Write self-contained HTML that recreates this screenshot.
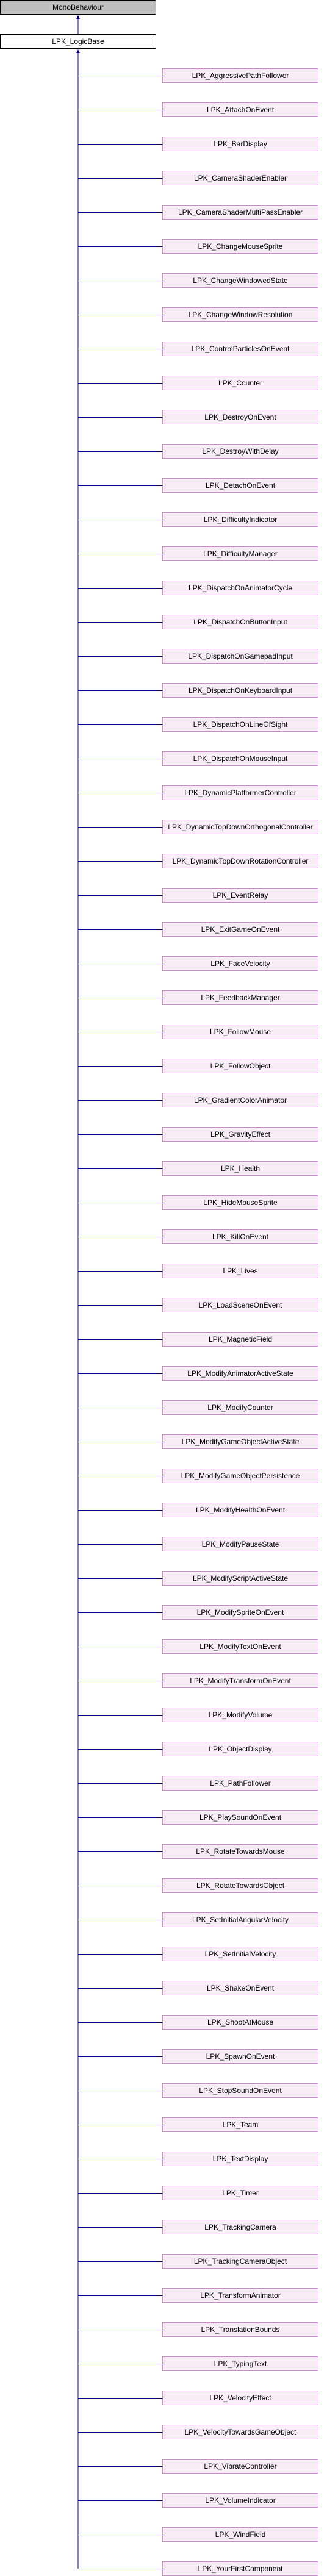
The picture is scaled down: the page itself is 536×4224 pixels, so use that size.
<!DOCTYPE html>
<html><head><meta charset="utf-8"><style>
html,body{margin:0;padding:0;background:#fff;width:536px;height:4224px;overflow:hidden}
svg text{font-family:"Liberation Sans",Arial,sans-serif;font-size:12px;fill:#000}
.c rect{fill:#f8edf5;stroke:#c98ac9;stroke-width:1}
</style></head><body>
<svg width="536" height="4224" xmlns="http://www.w3.org/2000/svg">
<rect x="0.5" y="0.5" width="255" height="23" fill="#bfbfbf" stroke="#000"/>
<text x="128" y="16" text-anchor="middle">MonoBehaviour</text>
<rect x="0.5" y="56.5" width="255" height="23" fill="#fff" stroke="#000"/>
<text x="128" y="72" text-anchor="middle">LPK_LogicBase</text>
<line x1="128" y1="30" x2="128" y2="56" stroke="#000080" stroke-width="1"/>
<polygon points="128,25 125,31 131,31" fill="#000080"/>
<line x1="128" y1="86" x2="128" y2="4212" stroke="#000080" stroke-width="1"/>
<polygon points="128,81 125,87 131,87" fill="#000080"/>
<g stroke="#000080" stroke-width="1">
<line x1="128" x2="266" y1="124.5" y2="124.5"/><line x1="128" x2="266" y1="180.5" y2="180.5"/><line x1="128" x2="266" y1="236.5" y2="236.5"/><line x1="128" x2="266" y1="292.5" y2="292.5"/><line x1="128" x2="266" y1="348.5" y2="348.5"/><line x1="128" x2="266" y1="404.5" y2="404.5"/><line x1="128" x2="266" y1="460.5" y2="460.5"/><line x1="128" x2="266" y1="516.5" y2="516.5"/><line x1="128" x2="266" y1="572.5" y2="572.5"/><line x1="128" x2="266" y1="628.5" y2="628.5"/>
<line x1="128" x2="266" y1="684.5" y2="684.5"/><line x1="128" x2="266" y1="740.5" y2="740.5"/><line x1="128" x2="266" y1="796.5" y2="796.5"/><line x1="128" x2="266" y1="852.5" y2="852.5"/><line x1="128" x2="266" y1="908.5" y2="908.5"/><line x1="128" x2="266" y1="964.5" y2="964.5"/><line x1="128" x2="266" y1="1020.5" y2="1020.5"/><line x1="128" x2="266" y1="1076.5" y2="1076.5"/><line x1="128" x2="266" y1="1132.5" y2="1132.5"/><line x1="128" x2="266" y1="1188.5" y2="1188.5"/>
<line x1="128" x2="266" y1="1244.5" y2="1244.5"/><line x1="128" x2="266" y1="1300.5" y2="1300.5"/><line x1="128" x2="266" y1="1356.5" y2="1356.5"/><line x1="128" x2="266" y1="1412.5" y2="1412.5"/><line x1="128" x2="266" y1="1468.5" y2="1468.5"/><line x1="128" x2="266" y1="1524.5" y2="1524.5"/><line x1="128" x2="266" y1="1580.5" y2="1580.5"/><line x1="128" x2="266" y1="1636.5" y2="1636.5"/><line x1="128" x2="266" y1="1692.5" y2="1692.5"/><line x1="128" x2="266" y1="1748.5" y2="1748.5"/>
<line x1="128" x2="266" y1="1804.5" y2="1804.5"/><line x1="128" x2="266" y1="1860.5" y2="1860.5"/><line x1="128" x2="266" y1="1916.5" y2="1916.5"/><line x1="128" x2="266" y1="1972.5" y2="1972.5"/><line x1="128" x2="266" y1="2028.5" y2="2028.5"/><line x1="128" x2="266" y1="2084.5" y2="2084.5"/><line x1="128" x2="266" y1="2140.5" y2="2140.5"/><line x1="128" x2="266" y1="2196.5" y2="2196.5"/><line x1="128" x2="266" y1="2252.5" y2="2252.5"/><line x1="128" x2="266" y1="2308.5" y2="2308.5"/>
<line x1="128" x2="266" y1="2364.5" y2="2364.5"/><line x1="128" x2="266" y1="2420.5" y2="2420.5"/><line x1="128" x2="266" y1="2476.5" y2="2476.5"/><line x1="128" x2="266" y1="2532.5" y2="2532.5"/><line x1="128" x2="266" y1="2588.5" y2="2588.5"/><line x1="128" x2="266" y1="2644.5" y2="2644.5"/><line x1="128" x2="266" y1="2700.5" y2="2700.5"/><line x1="128" x2="266" y1="2756.5" y2="2756.5"/><line x1="128" x2="266" y1="2812.5" y2="2812.5"/><line x1="128" x2="266" y1="2868.5" y2="2868.5"/>
<line x1="128" x2="266" y1="2924.5" y2="2924.5"/><line x1="128" x2="266" y1="2980.5" y2="2980.5"/><line x1="128" x2="266" y1="3036.5" y2="3036.5"/><line x1="128" x2="266" y1="3092.5" y2="3092.5"/><line x1="128" x2="266" y1="3148.5" y2="3148.5"/><line x1="128" x2="266" y1="3204.5" y2="3204.5"/><line x1="128" x2="266" y1="3260.5" y2="3260.5"/><line x1="128" x2="266" y1="3316.5" y2="3316.5"/><line x1="128" x2="266" y1="3372.5" y2="3372.5"/><line x1="128" x2="266" y1="3428.5" y2="3428.5"/>
<line x1="128" x2="266" y1="3484.5" y2="3484.5"/><line x1="128" x2="266" y1="3540.5" y2="3540.5"/><line x1="128" x2="266" y1="3596.5" y2="3596.5"/><line x1="128" x2="266" y1="3652.5" y2="3652.5"/><line x1="128" x2="266" y1="3708.5" y2="3708.5"/><line x1="128" x2="266" y1="3764.5" y2="3764.5"/><line x1="128" x2="266" y1="3820.5" y2="3820.5"/><line x1="128" x2="266" y1="3876.5" y2="3876.5"/><line x1="128" x2="266" y1="3932.5" y2="3932.5"/><line x1="128" x2="266" y1="3988.5" y2="3988.5"/>
<line x1="128" x2="266" y1="4044.5" y2="4044.5"/><line x1="128" x2="266" y1="4100.5" y2="4100.5"/><line x1="128" x2="266" y1="4156.5" y2="4156.5"/><line x1="128" x2="266" y1="4212.5" y2="4212.5"/>
</g>
<g class="c">
<rect x="266.5" y="112.5" width="255" height="23"/><rect x="266.5" y="168.5" width="255" height="23"/><rect x="266.5" y="224.5" width="255" height="23"/><rect x="266.5" y="280.5" width="255" height="23"/><rect x="266.5" y="336.5" width="255" height="23"/><rect x="266.5" y="392.5" width="255" height="23"/><rect x="266.5" y="448.5" width="255" height="23"/><rect x="266.5" y="504.5" width="255" height="23"/><rect x="266.5" y="560.5" width="255" height="23"/><rect x="266.5" y="616.5" width="255" height="23"/>
<rect x="266.5" y="672.5" width="255" height="23"/><rect x="266.5" y="728.5" width="255" height="23"/><rect x="266.5" y="784.5" width="255" height="23"/><rect x="266.5" y="840.5" width="255" height="23"/><rect x="266.5" y="896.5" width="255" height="23"/><rect x="266.5" y="952.5" width="255" height="23"/><rect x="266.5" y="1008.5" width="255" height="23"/><rect x="266.5" y="1064.5" width="255" height="23"/><rect x="266.5" y="1120.5" width="255" height="23"/><rect x="266.5" y="1176.5" width="255" height="23"/>
<rect x="266.5" y="1232.5" width="255" height="23"/><rect x="266.5" y="1288.5" width="255" height="23"/><rect x="266.5" y="1344.5" width="255" height="23"/><rect x="266.5" y="1400.5" width="255" height="23"/><rect x="266.5" y="1456.5" width="255" height="23"/><rect x="266.5" y="1512.5" width="255" height="23"/><rect x="266.5" y="1568.5" width="255" height="23"/><rect x="266.5" y="1624.5" width="255" height="23"/><rect x="266.5" y="1680.5" width="255" height="23"/><rect x="266.5" y="1736.5" width="255" height="23"/>
<rect x="266.5" y="1792.5" width="255" height="23"/><rect x="266.5" y="1848.5" width="255" height="23"/><rect x="266.5" y="1904.5" width="255" height="23"/><rect x="266.5" y="1960.5" width="255" height="23"/><rect x="266.5" y="2016.5" width="255" height="23"/><rect x="266.5" y="2072.5" width="255" height="23"/><rect x="266.5" y="2128.5" width="255" height="23"/><rect x="266.5" y="2184.5" width="255" height="23"/><rect x="266.5" y="2240.5" width="255" height="23"/><rect x="266.5" y="2296.5" width="255" height="23"/>
<rect x="266.5" y="2352.5" width="255" height="23"/><rect x="266.5" y="2408.5" width="255" height="23"/><rect x="266.5" y="2464.5" width="255" height="23"/><rect x="266.5" y="2520.5" width="255" height="23"/><rect x="266.5" y="2576.5" width="255" height="23"/><rect x="266.5" y="2632.5" width="255" height="23"/><rect x="266.5" y="2688.5" width="255" height="23"/><rect x="266.5" y="2744.5" width="255" height="23"/><rect x="266.5" y="2800.5" width="255" height="23"/><rect x="266.5" y="2856.5" width="255" height="23"/>
<rect x="266.5" y="2912.5" width="255" height="23"/><rect x="266.5" y="2968.5" width="255" height="23"/><rect x="266.5" y="3024.5" width="255" height="23"/><rect x="266.5" y="3080.5" width="255" height="23"/><rect x="266.5" y="3136.5" width="255" height="23"/><rect x="266.5" y="3192.5" width="255" height="23"/><rect x="266.5" y="3248.5" width="255" height="23"/><rect x="266.5" y="3304.5" width="255" height="23"/><rect x="266.5" y="3360.5" width="255" height="23"/><rect x="266.5" y="3416.5" width="255" height="23"/>
<rect x="266.5" y="3472.5" width="255" height="23"/><rect x="266.5" y="3528.5" width="255" height="23"/><rect x="266.5" y="3584.5" width="255" height="23"/><rect x="266.5" y="3640.5" width="255" height="23"/><rect x="266.5" y="3696.5" width="255" height="23"/><rect x="266.5" y="3752.5" width="255" height="23"/><rect x="266.5" y="3808.5" width="255" height="23"/><rect x="266.5" y="3864.5" width="255" height="23"/><rect x="266.5" y="3920.5" width="255" height="23"/><rect x="266.5" y="3976.5" width="255" height="23"/>
<rect x="266.5" y="4032.5" width="255" height="23"/><rect x="266.5" y="4088.5" width="255" height="23"/><rect x="266.5" y="4144.5" width="255" height="23"/><rect x="266.5" y="4200.5" width="255" height="23"/>
</g>
<g text-anchor="middle">
<text x="394" y="128">LPK_AggressivePathFollower</text>
<text x="394" y="184">LPK_AttachOnEvent</text>
<text x="394" y="240">LPK_BarDisplay</text>
<text x="394" y="296">LPK_CameraShaderEnabler</text>
<text x="394" y="352">LPK_CameraShaderMultiPassEnabler</text>
<text x="394" y="408">LPK_ChangeMouseSprite</text>
<text x="394" y="464">LPK_ChangeWindowedState</text>
<text x="394" y="520">LPK_ChangeWindowResolution</text>
<text x="394" y="576">LPK_ControlParticlesOnEvent</text>
<text x="394" y="632">LPK_Counter</text>
<text x="394" y="688">LPK_DestroyOnEvent</text>
<text x="394" y="744">LPK_DestroyWithDelay</text>
<text x="394" y="800">LPK_DetachOnEvent</text>
<text x="394" y="856">LPK_DifficultyIndicator</text>
<text x="394" y="912">LPK_DifficultyManager</text>
<text x="394" y="968">LPK_DispatchOnAnimatorCycle</text>
<text x="394" y="1024">LPK_DispatchOnButtonInput</text>
<text x="394" y="1080">LPK_DispatchOnGamepadInput</text>
<text x="394" y="1136">LPK_DispatchOnKeyboardInput</text>
<text x="394" y="1192">LPK_DispatchOnLineOfSight</text>
<text x="394" y="1248">LPK_DispatchOnMouseInput</text>
<text x="394" y="1304">LPK_DynamicPlatformerController</text>
<text x="394" y="1360">LPK_DynamicTopDownOrthogonalController</text>
<text x="394" y="1416">LPK_DynamicTopDownRotationController</text>
<text x="394" y="1472">LPK_EventRelay</text>
<text x="394" y="1528">LPK_ExitGameOnEvent</text>
<text x="394" y="1584">LPK_FaceVelocity</text>
<text x="394" y="1640">LPK_FeedbackManager</text>
<text x="394" y="1696">LPK_FollowMouse</text>
<text x="394" y="1752">LPK_FollowObject</text>
<text x="394" y="1808">LPK_GradientColorAnimator</text>
<text x="394" y="1864">LPK_GravityEffect</text>
<text x="394" y="1920">LPK_Health</text>
<text x="394" y="1976">LPK_HideMouseSprite</text>
<text x="394" y="2032">LPK_KillOnEvent</text>
<text x="394" y="2088">LPK_Lives</text>
<text x="394" y="2144">LPK_LoadSceneOnEvent</text>
<text x="394" y="2200">LPK_MagneticField</text>
<text x="394" y="2256">LPK_ModifyAnimatorActiveState</text>
<text x="394" y="2312">LPK_ModifyCounter</text>
<text x="394" y="2368">LPK_ModifyGameObjectActiveState</text>
<text x="394" y="2424">LPK_ModifyGameObjectPersistence</text>
<text x="394" y="2480">LPK_ModifyHealthOnEvent</text>
<text x="394" y="2536">LPK_ModifyPauseState</text>
<text x="394" y="2592">LPK_ModifyScriptActiveState</text>
<text x="394" y="2648">LPK_ModifySpriteOnEvent</text>
<text x="394" y="2704">LPK_ModifyTextOnEvent</text>
<text x="394" y="2760">LPK_ModifyTransformOnEvent</text>
<text x="394" y="2816">LPK_ModifyVolume</text>
<text x="394" y="2872">LPK_ObjectDisplay</text>
<text x="394" y="2928">LPK_PathFollower</text>
<text x="394" y="2984">LPK_PlaySoundOnEvent</text>
<text x="394" y="3040">LPK_RotateTowardsMouse</text>
<text x="394" y="3096">LPK_RotateTowardsObject</text>
<text x="394" y="3152">LPK_SetInitialAngularVelocity</text>
<text x="394" y="3208">LPK_SetInitialVelocity</text>
<text x="394" y="3264">LPK_ShakeOnEvent</text>
<text x="394" y="3320">LPK_ShootAtMouse</text>
<text x="394" y="3376">LPK_SpawnOnEvent</text>
<text x="394" y="3432">LPK_StopSoundOnEvent</text>
<text x="394" y="3488">LPK_Team</text>
<text x="394" y="3544">LPK_TextDisplay</text>
<text x="394" y="3600">LPK_Timer</text>
<text x="394" y="3656">LPK_TrackingCamera</text>
<text x="394" y="3712">LPK_TrackingCameraObject</text>
<text x="394" y="3768">LPK_TransformAnimator</text>
<text x="394" y="3824">LPK_TranslationBounds</text>
<text x="394" y="3880">LPK_TypingText</text>
<text x="394" y="3936">LPK_VelocityEffect</text>
<text x="394" y="3992">LPK_VelocityTowardsGameObject</text>
<text x="394" y="4048">LPK_VibrateController</text>
<text x="394" y="4104">LPK_VolumeIndicator</text>
<text x="394" y="4160">LPK_WindField</text>
<text x="394" y="4216">LPK_YourFirstComponent</text>
</g>
</svg>
</body></html>
